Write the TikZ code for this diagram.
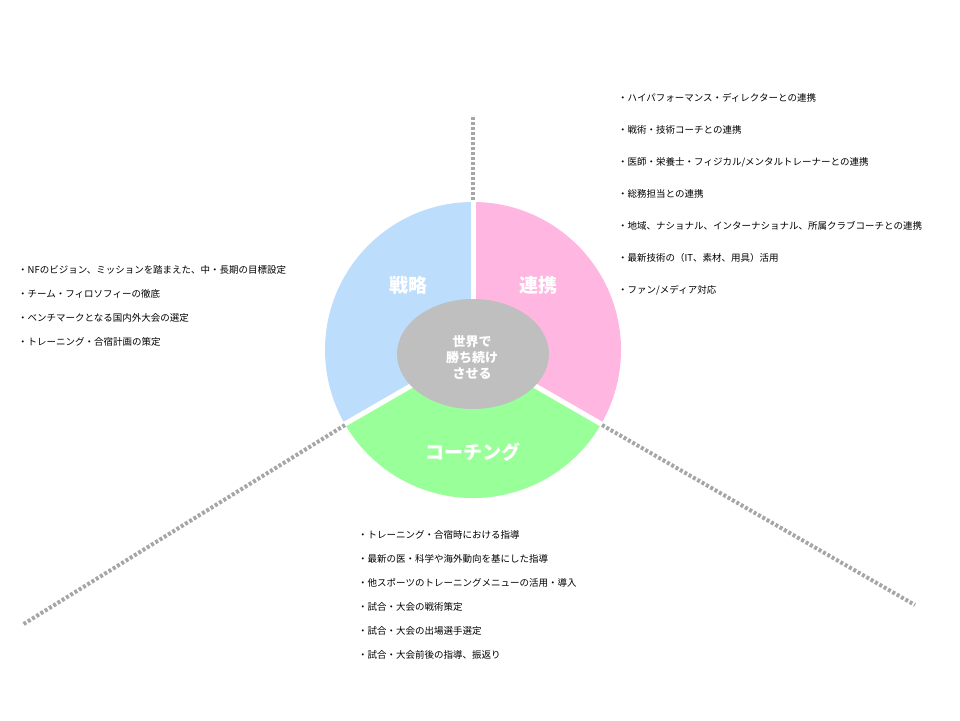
\documentclass[tikz,border=0pt]{standalone}
\usepackage{fontspec}
\setmainfont{Noto Sans CJK JP}
\usetikzlibrary{shapes.geometric}
\definecolor{cblue}{RGB}{189,221,252}
\definecolor{cpink}{RGB}{255,183,226}
\definecolor{cgreen}{RGB}{153,255,153}
\definecolor{cgray}{RGB}{191,191,191}
\definecolor{cdot}{RGB}{166,166,166}
\begin{document}
\begin{tikzpicture}[x=1pt,y=-1pt,
  dotl/.style={draw=cdot,line width=4pt,dash pattern=on 3pt off 2pt},
  item/.style={anchor=west,font=\fontsize{9.5}{11}\selectfont,inner sep=0pt},
  big/.style={text=white,font=\fontsize{19}{22}\selectfont\bfseries}]
\useasboundingbox (0,0) rectangle (960,720);
\coordinate (c) at (473,350);
\fill[cblue] (c) -- ++(0,-148) arc[start angle=-90,end angle=-210,radius=148] -- cycle;
\fill[cpink] (c) -- ++(0,-148) arc[start angle=-90,end angle=30,radius=148] -- cycle;
\fill[cgreen] (c) -- ++(30:148) arc[start angle=30,end angle=150,radius=148] -- cycle;
\foreach \a in {-90,30,150} \draw[white,line width=5pt] (c) -- ++(\a:149);
\coordinate (t1) at (473,200); \coordinate (t2) at (473,115);
\coordinate (l1) at (345,425); \coordinate (l2) at (22,625);
\coordinate (r1) at (602,425); \coordinate (r2) at (915,605);
\draw[dotl] (t1) -- (t2); \draw[dotl] (l1) -- (l2); \draw[dotl] (r1) -- (r2);
\node[ellipse,fill=cgray,minimum width=152,minimum height=110,inner sep=0pt] (core) at (473,354) {};
\node[text=white,font=\fontsize{13}{16}\selectfont\bfseries,align=center] (coret) at (472,357) {世界で\\勝ち続け\\させる};
\node[big] (s1) at (408,285) {戦略};
\node[big] (s2) at (538,285) {連携};
\node[big] (s3) at (473,452) {コーチング};
\foreach \t [count=\i] in {・NFのビジョン、ミッションを踏まえた、中・長期の目標設定,・チーム・フィロソフィーの徹底,・ベンチマークとなる国内外大会の選定,・トレーニング・合宿計画の策定}
  \node[item] (a\i) at (18,{270+(\i-1)*24}) {\t};
\foreach \t [count=\i] in {・ハイパフォーマンス・ディレクターとの連携,・戦術・技術コーチとの連携,・医師・栄養士・フィジカル/メンタルトレーナーとの連携,・総務担当との連携,・地域、ナショナル、インターナショナル、所属クラブコーチとの連携,・最新技術の（IT、素材、用具）活用,・ファン/メディア対応}
  \node[item] (b\i) at (618,{98+(\i-1)*32}) {\t};
\foreach \t [count=\i] in {・トレーニング・合宿時における指導,・最新の医・科学や海外動向を基にした指導,・他スポーツのトレーニングメニューの活用・導入,・試合・大会の戦術策定,・試合・大会の出場選手選定,・試合・大会前後の指導、振返り}
  \node[item] (d\i) at (358,{535+(\i-1)*24}) {\t};
\end{tikzpicture}
\end{document}
